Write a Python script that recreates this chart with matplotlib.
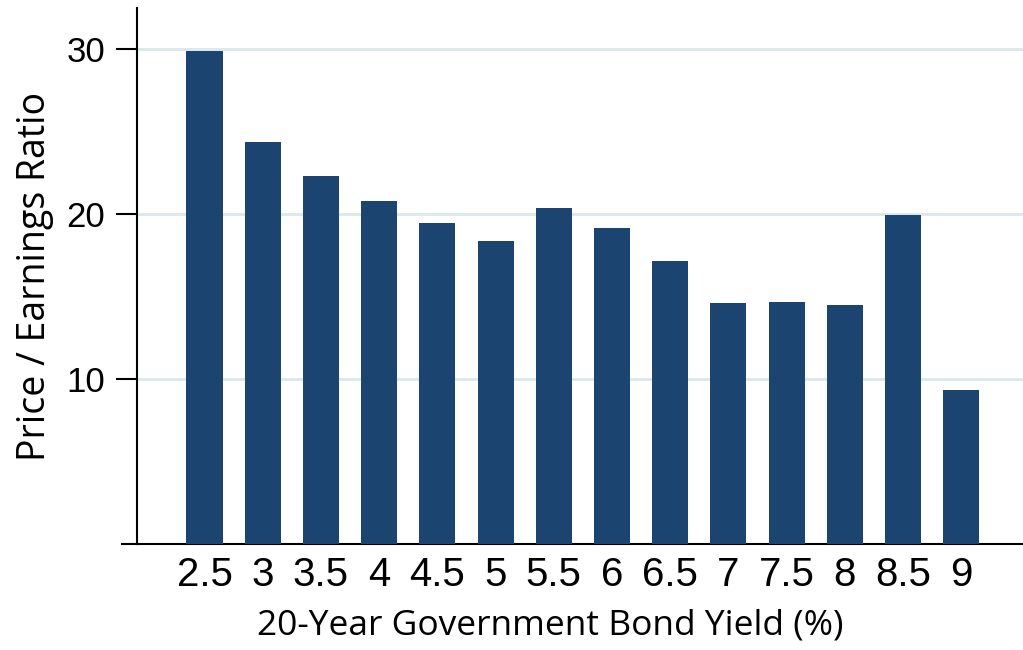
import matplotlib.pyplot as plt
import numpy as np

yields = ['2.5', '3', '3.5', '4', '4.5', '5', '5.5', '6', '6.5', '7', '7.5', '8', '8.5', '9']
pe_ratio = [29.9, 24.35, 22.3, 20.8, 19.45, 18.4, 20.35, 19.15, 17.15, 14.6, 14.65, 14.5, 19.95, 9.35]

fig = plt.figure(figsize=(10.23, 6.5), dpi=100)
ax = fig.add_axes([137 / 1023, 106 / 650, 1 - 137 / 1023, 536 / 650])

x = np.arange(len(yields))
ax.bar(x, pe_ratio, width=0.62, color='#1b4570', zorder=3)

ax.set_xlim(-1.16, 14.06)
ax.set_ylim(0, 32.5)
ax.set_yticks([10, 20, 30])
ax.yaxis.grid(True, color='#dbe7ec', linewidth=2, zorder=0)

ax.set_xticks(x)
ax.set_xticklabels(yields, fontsize=29, family='Liberation Sans')
ax.tick_params(axis='x', length=0, pad=9)
ax.tick_params(axis='y', length=15, width=1.5, labelsize=25, pad=8)
for lab in ax.get_yticklabels():
    lab.set_family('Liberation Sans')

for s in ['top', 'right']:
    ax.spines[s].set_visible(False)
ax.spines['left'].set_linewidth(1.5)
ax.spines['bottom'].set_linewidth(1.5)
# bottom axis line runs a little left of the y axis
ax.plot([-15 / 886, 0], [0, 0], transform=ax.transAxes, color='black',
        linewidth=1.5, clip_on=False)

ax.set_ylabel('Price / Earnings Ratio', fontsize=27, family='Open Sans', labelpad=9)
ax.set_xlabel('20-Year Government Bond Yield (%)', fontsize=25.5, family='Open Sans', labelpad=10)
ax.xaxis.set_label_coords(0.466, -0.12)

fig.savefig('out.png', dpi=100)
